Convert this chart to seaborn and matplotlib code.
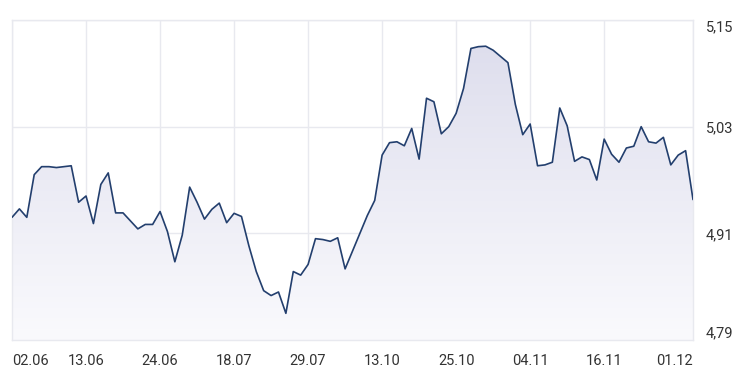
import numpy as np
import pandas as pd
import seaborn as sns
import matplotlib
matplotlib.use("Agg")
import matplotlib.pyplot as plt
from matplotlib.colors import LinearSegmentedColormap

# ---- data ----
values = [
    4.928, 4.9375, 4.928, 4.976, 4.985, 4.985, 4.984, 4.985, 4.986, 4.945,
    4.952, 4.921, 4.965, 4.978, 4.933, 4.933, 4.924, 4.915, 4.920, 4.920,
    4.9345, 4.912, 4.878, 4.908, 4.962, 4.945, 4.926, 4.937, 4.944, 4.922,
    4.9325, 4.929, 4.896, 4.867, 4.8455, 4.840, 4.844, 4.820, 4.867, 4.863,
    4.875, 4.904, 4.903, 4.901, 4.905, 4.870, 4.890, 4.910, 4.930, 4.947,
    4.998, 5.012, 5.013, 5.0085, 5.028, 4.9935, 5.062, 5.058, 5.022, 5.030,
    5.045, 5.073, 5.118, 5.120, 5.1205, 5.116, 5.109, 5.102, 5.055, 5.021,
    5.033, 4.986, 4.987, 4.990, 5.051, 5.031, 4.991, 4.996, 4.993, 4.970,
    5.016, 4.999, 4.990, 5.006, 5.008, 5.030, 5.013, 5.0115, 5.018, 4.987,
    4.998, 5.003, 4.948,
]
tick_index = [0, 10, 20, 30, 40, 50, 60, 70, 80, 92]
tick_labels = ["02.06", "13.06", "24.06", "18.07", "29.07",
               "13.10", "25.10", "04.11", "16.11", "01.12"]
y_ticks = [4.79, 4.91, 5.03, 5.15]
y_labels = ["4,79", "4,91", "5,03", "5,15"]

df = pd.DataFrame({"idx": np.arange(len(values)), "value": values})

sns.set_theme(style="white")
plt.rcParams["font.family"] = ["Roboto", "DejaVu Sans"]

fig = plt.figure(figsize=(7.47, 3.82), dpi=100)
ax = fig.add_axes([12 / 747, 1 - 340 / 382, (693 - 12) / 747, (340 - 20) / 382])

ymin, ymax = y_ticks[0], y_ticks[-1]
xmax = len(values) - 1

# gradient fill under the line
poly = ax.fill_between(df["idx"], df["value"], ymin, color="none", lw=0)
cmap = LinearSegmentedColormap.from_list("g", ["#fafafd", "#dcdcec"])
grad = np.linspace(0, 1, 256).reshape(-1, 1)
img = ax.imshow(grad, extent=[0, xmax, ymin, ymax], aspect="auto",
                cmap=cmap, origin="lower", zorder=1, interpolation="bicubic")
img.set_clip_path(poly.get_paths()[0], transform=ax.transData)

sns.lineplot(data=df, x="idx", y="value", ax=ax, color="#233f6e",
             linewidth=1.2, zorder=3)

ax.set_xlim(0, xmax)
ax.set_ylim(ymin, ymax)

grid_c = "#e8e9ef"
ax.set_xticks(tick_index)
ax.set_xticklabels(tick_labels)
ax.set_yticks(y_ticks)
ax.set_yticklabels(y_labels)
ax.yaxis.tick_right()
ax.grid(True, color=grid_c, linewidth=1.0, zorder=0)
ax.set_axisbelow(True)
for s in ax.spines.values():
    s.set_color(grid_c)
    s.set_linewidth(1.0)

ax.tick_params(axis="x", length=0, pad=10, labelsize=10.5, labelcolor="#333333")
ax.tick_params(axis="y", length=0, pad=9, labelsize=10.5, labelcolor="#333333")
xl = ax.get_xticklabels()
xl[0].set_ha("left")
xl[-1].set_ha("right")
yl = ax.get_yticklabels()
yl[0].set_va("bottom")
yl[-1].set_va("top")

ax.set_xlabel("")
ax.set_ylabel("")

fig.savefig("out.png", dpi=100, facecolor="white")
